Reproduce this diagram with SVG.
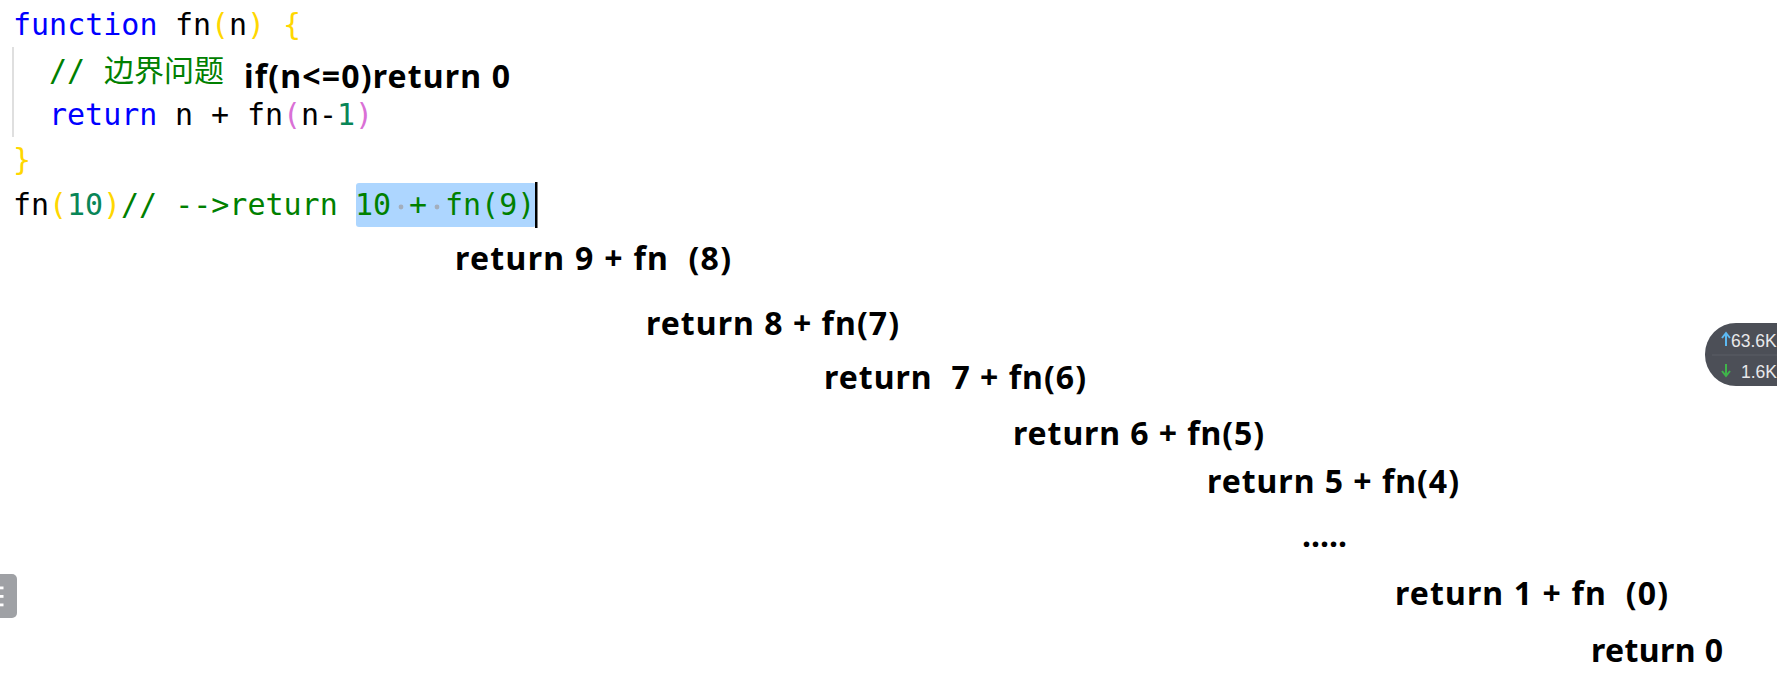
<svg xmlns="http://www.w3.org/2000/svg" width="1777" height="690" viewBox="0 0 1777 690">
<style>
.code{font-family:"DejaVu Sans Mono","Liberation Mono",monospace;font-size:30px;white-space:pre}
.cjk{font-family:"Noto Sans CJK SC",sans-serif;font-size:30px;fill:#008000}
.kw{fill:#0000ff}.pl{fill:#000000}.br1{fill:#ffd700}.br2{fill:#da70d6}.num{fill:#098658}.cm{fill:#008000}
.note{font-family:"Noto Sans","Open Sans",sans-serif;font-weight:700;font-size:32px;fill:#000;white-space:pre}
.badge{font-family:"Liberation Sans","Noto Sans",sans-serif;font-size:17.5px;fill:#e8e8ea}
</style>
<rect width="1777" height="690" fill="#ffffff"/>
<g id="code">
<line x1="13" y1="47" x2="13" y2="137" stroke="#d4d4d4" stroke-width="1.5"/>
<rect x="356" y="183" width="180" height="44" rx="3" fill="#add6ff"/>
<circle cx="401" cy="207" r="2.4" fill="#a3aebc"/>
<circle cx="437" cy="207" r="2.4" fill="#a3aebc"/>
<rect x="535" y="182" width="2.5" height="46" fill="#000"/>
<text class="code" y="35"><tspan x="13" class="kw">function</tspan><tspan x="175" class="pl">fn</tspan><tspan x="211" class="br1">(</tspan><tspan x="229" class="pl">n</tspan><tspan x="247" class="br1">)</tspan><tspan x="283" class="br1">{</tspan></text>
<text class="code" y="81"><tspan x="49" class="cm">//</tspan></text>
<text class="cjk" x="104" y="81">边界问题</text>
<text class="code" y="125"><tspan x="49" class="kw">return</tspan><tspan x="175" class="pl">n</tspan><tspan x="211" class="pl">+</tspan><tspan x="247" class="pl">fn</tspan><tspan x="283" class="br2">(</tspan><tspan x="301" class="pl">n-</tspan><tspan x="337" class="num">1</tspan><tspan x="355" class="br2">)</tspan></text>
<text class="code" y="170"><tspan x="13" class="br1">}</tspan></text>
<text class="code" y="215"><tspan x="13" class="pl">fn</tspan><tspan x="49" class="br1">(</tspan><tspan x="67" class="num">10</tspan><tspan x="103" class="br1">)</tspan><tspan x="121" class="cm">// --&gt;return</tspan><tspan x="355" class="cm">10</tspan><tspan x="409" class="cm">+</tspan><tspan x="445" class="cm">fn(9)</tspan></text>
</g>
<g id="notes">
<text id="n0" class="note" x="244" y="88" textLength="266" lengthAdjust="spacing">if(n&lt;=0)return 0</text>
<text id="n9" class="note" x="455" y="270" textLength="276" lengthAdjust="spacing">return 9 + fn  (8)</text>
<text id="n8" class="note" x="646" y="335" textLength="253" lengthAdjust="spacing">return 8 + fn(7)</text>
<text id="n7" class="note" x="824" y="389" textLength="262" lengthAdjust="spacing">return  7 + fn(6)</text>
<text id="n6" class="note" x="1013" y="445" textLength="251" lengthAdjust="spacing">return 6 + fn(5)</text>
<text id="n5" class="note" x="1207" y="493" textLength="252" lengthAdjust="spacing">return 5 + fn(4)</text>
<text id="ndots" class="note" x="1302" y="547" textLength="45" lengthAdjust="spacing">.....</text>
<text id="n1" class="note" x="1395" y="605" textLength="273" lengthAdjust="spacing">return 1 + fn  (0)</text>
<text id="nret0" class="note" x="1591" y="662" textLength="132" lengthAdjust="spacing">return 0</text>
</g>
<g id="badge">
<rect x="1705" y="323" width="120" height="63" rx="31" fill="#4c4f57"/>
<line x1="1712" y1="355" x2="1777" y2="355" stroke="#5b5e66" stroke-width="1"/>
<path d="M1726 346 V334 M1722 338 L1726 333 L1730 338" stroke="#5cb9f2" stroke-width="2" fill="none"/>
<path d="M1726 364 V375 M1722 371 L1726 376 L1730 371" stroke="#3fb54a" stroke-width="2" fill="none"/>
<text class="badge" x="1731" y="347">63.6K</text>
<text class="badge" x="1741" y="378">1.6K</text>
</g>
<g id="sidetab">
<rect x="-10" y="574" width="27" height="44" rx="5" fill="#9fa1a5"/>
<rect x="0" y="586.5" width="3.5" height="2.8" fill="#fff"/>
<rect x="0" y="595" width="3.5" height="2.8" fill="#fff"/>
<rect x="0" y="603.5" width="3.5" height="2.8" fill="#fff"/>
</g>
</svg>
